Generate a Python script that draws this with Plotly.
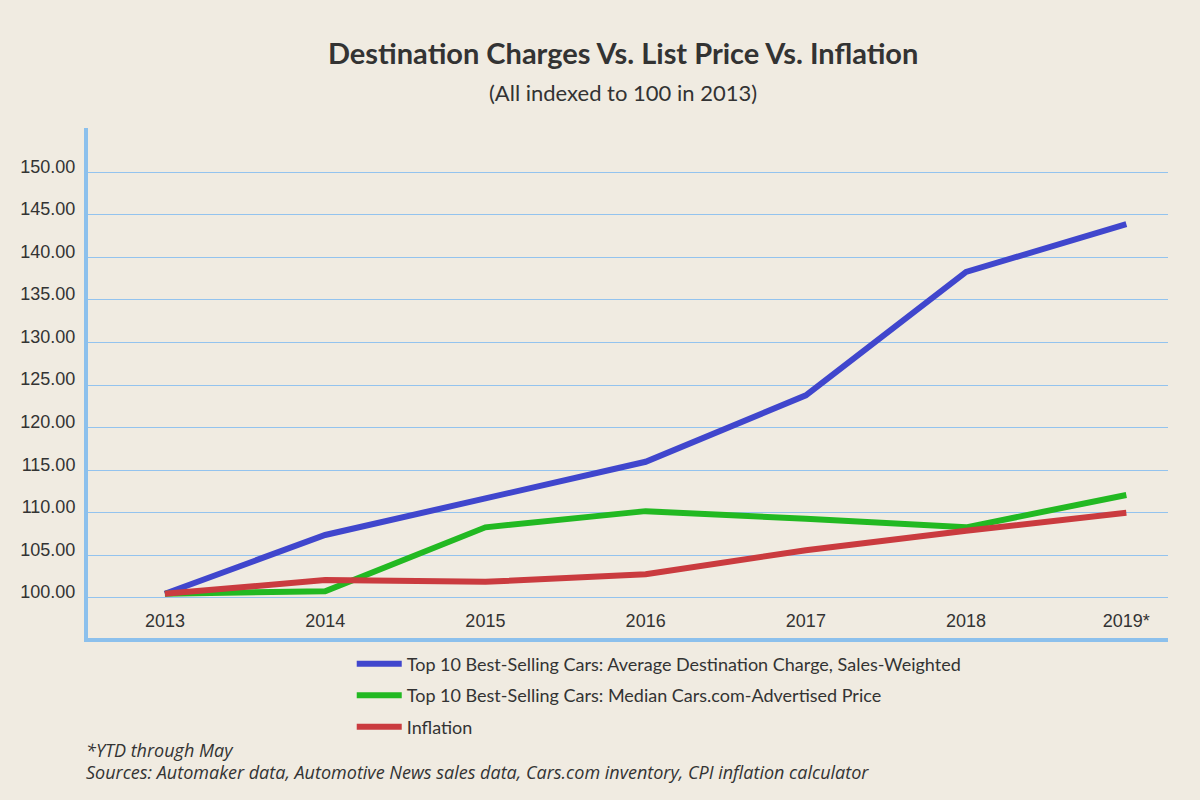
import plotly.graph_objects as go

years = ["2013", "2014", "2015", "2016", "2017", "2018", "2019*"]
destination_charge = [100.5, 107.4, 111.7, 116.0, 123.8, 138.3, 143.9]
median_price = [100.5, 100.8, 108.3, 110.2, 109.3, 108.3, 112.1]
inflation = [100.5, 102.1, 101.9, 102.8, 105.6, 107.9, 110.0]
y_ticks = [100, 105, 110, 115, 120, 125, 130, 135, 140, 145, 150]

names = [
    "Top 10 Best-Selling Cars: Average Destination Charge, Sales-Weighted",
    "Top 10 Best-Selling Cars: Median Cars.com-Advertised Price",
    "Inflation",
]
colors = ["#4046cd", "#22b922", "#ca3b3f"]
series = [destination_charge, median_price, inflation]

BG = "#f0ebe1"
AXIS = "#8cc0ec"

fig = go.Figure()
for i, (nm, vals, c) in enumerate(zip(names, series, colors)):
    fig.add_trace(go.Scatter(
        x=years, y=vals, name=nm, mode="lines",
        line=dict(color=c, width=6),
        legendgroup=f"g{i}",
    ))

fig.update_layout(
    width=1200, height=800,
    paper_bgcolor=BG, plot_bgcolor=BG,
    margin=dict(l=88, r=32, t=128, b=162),
    showlegend=True,
    legend=dict(
        x=0.2442, y=-0.015, xanchor="left", yanchor="top",
        orientation="v", bgcolor="rgba(0,0,0,0)",
        font=dict(family="Lato", size=18, color="#333333"),
        tracegroupgap=5, itemwidth=45,
    ),
    xaxis=dict(
        type="category",
        showgrid=False,
        showline=True, linecolor=AXIS, linewidth=4,
        ticks="", ticklabelposition="inside", ticklabelstandoff=8,
        tickfont=dict(family="Liberation Sans, Arial", size=18, color="#333333"),
        zeroline=False,
        range=[-0.48, 6.26],
    ),
    yaxis=dict(
        range=[95.3, 155.2],
        tickvals=y_ticks,
        tickformat=".2f",
        showgrid=True, gridcolor="#93c3ee", gridwidth=1,
        showline=True, linecolor=AXIS, linewidth=4,
        ticks="", ticklabelstandoff=5, ticklabelshift=-6,
        tickfont=dict(family="Liberation Sans, Arial", size=18, color="#333333"),
        zeroline=False,
    ),
    annotations=[
        dict(text="<b>Destination Charges Vs. List Price Vs. Inflation</b>",
             xref="paper", yref="paper", x=0.495, y=(800 - 52 - 162) / 510,
             xanchor="center", yanchor="middle", showarrow=False,
             font=dict(family="Lato", size=29, color="#333333")),
        dict(text="(All indexed to 100 in 2013)",
             xref="paper", yref="paper", x=0.495, y=(800 - 92 - 162) / 510,
             xanchor="center", yanchor="middle", showarrow=False,
             font=dict(family="Lato", size=22, color="#333333")),
        dict(text="<i>*YTD through May</i>",
             xref="paper", yref="paper", x=(84 - 88) / 1080, y=(800 - 750 - 162) / 510,
             xanchor="left", yanchor="middle", showarrow=False,
             font=dict(family="Open Sans", size=18, color="#333333")),
        dict(text="<i>Sources: Automaker data, Automotive News sales data, Cars.com inventory, CPI inflation calculator</i>",
             xref="paper", yref="paper", x=(84 - 88) / 1080, y=(800 - 772 - 162) / 510,
             xanchor="left", yanchor="middle", showarrow=False,
             font=dict(family="Open Sans", size=18, color="#333333")),
    ],
)

fig.write_html("out.html")
